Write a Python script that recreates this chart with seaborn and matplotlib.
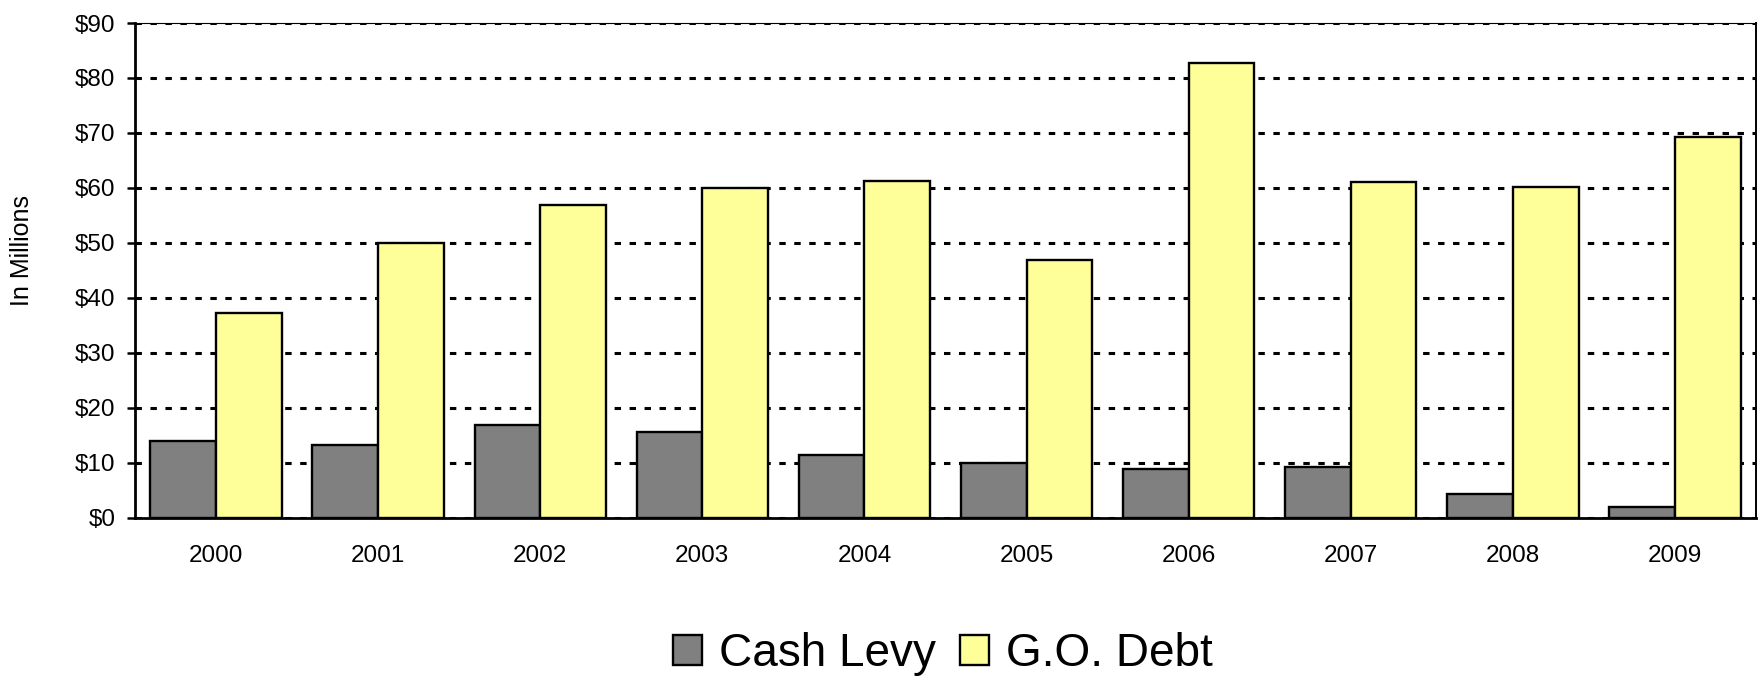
import matplotlib
matplotlib.use("Agg")
import matplotlib.pyplot as plt
import matplotlib.ticker as mticker
import pandas as pd
import seaborn as sns

years = ["2000", "2001", "2002", "2003", "2004", "2005", "2006", "2007", "2008", "2009"]
cash_levy = [14.0, 13.2, 16.8, 15.5, 11.3, 10.0, 8.8, 9.2, 4.2, 1.9]
go_debt = [37.3, 50.0, 56.9, 60.0, 61.3, 46.8, 82.8, 61.0, 60.1, 69.2]
series_names = ["Cash Levy", "G.O. Debt"]
series_colors = ["#808080", "#FFFF99"]
y_ticks = [0, 10, 20, 30, 40, 50, 60, 70, 80, 90]

df = pd.DataFrame({
    "Year": years * 2,
    "Value": cash_levy + go_debt,
    "Series": [series_names[0]] * len(years) + [series_names[1]] * len(years),
})

sns.set_style("white", rc={"text.color": "black", "axes.labelcolor": "black",
                           "xtick.color": "black", "ytick.color": "black"})
plt.rcParams["font.family"] = ["Liberation Sans", "DejaVu Sans"]

fig = plt.figure(figsize=(17.61, 6.78), dpi=100)
ax = fig.add_axes([135 / 1761, 1 - 517.5 / 678, (1756 - 135) / 1761, (517.5 - 23) / 678])

sns.barplot(
    data=df, x="Year", y="Value", hue="Series", order=years, hue_order=series_names,
    palette=dict(zip(series_names, series_colors)), saturation=1, width=0.81,
    edgecolor="black", linewidth=1.7, ax=ax, legend=True,
)

ax.set_xlim(-0.5, len(years) - 0.5)
ax.set_ylim(0, 90)
ax.set_yticks(y_ticks)
ax.yaxis.set_major_formatter(mticker.FuncFormatter(lambda v, _: f"${v:.0f}"))

# dotted horizontal gridlines behind the bars
ax.set_axisbelow(True)
ax.yaxis.grid(True, color="black", linewidth=2.2, linestyle=(0, (2.1, 2.8)))
ax.xaxis.grid(False)

# category labels centred, tick marks at group boundaries
ax.set_xticks(range(len(years)))
ax.set_xticklabels(years)
ax.set_xticks([i - 0.5 for i in range(len(years) + 1)], minor=True)
ax.tick_params(axis="x", which="major", length=0, pad=20, labelsize=17.5, colors="black")
ax.tick_params(axis="x", which="minor", direction="out", length=6, width=1.8, color="black")
ax.tick_params(axis="y", which="major", direction="out", length=6, width=1.8,
               pad=8, labelsize=17.5, colors="black", left=True)

for side in ("left", "bottom"):
    ax.spines[side].set_color("black")
    ax.spines[side].set_linewidth(2.0)
ax.spines["right"].set_color("black")
ax.spines["right"].set_linewidth(1.4)
ax.spines["top"].set_color("black")
ax.spines["top"].set_linewidth(0.8)

ax.set_xlabel("")
ax.set_ylabel("In Millions", fontsize=18, color="black")
ax.yaxis.set_label_coords(-0.0625, 0.54)

leg = ax.get_legend()
handles = leg.legend_handles
leg.remove()
fig.legend(
    handles, series_names, loc="center", bbox_to_anchor=(943 / 1761, 1 - 654 / 678),
    ncol=2, frameon=False, fontsize=33, handlelength=0.63, handleheight=0.63,
    handletextpad=0.37, columnspacing=0.53, borderpad=0, labelcolor="black",
)

fig.savefig("out.png", dpi=100)
